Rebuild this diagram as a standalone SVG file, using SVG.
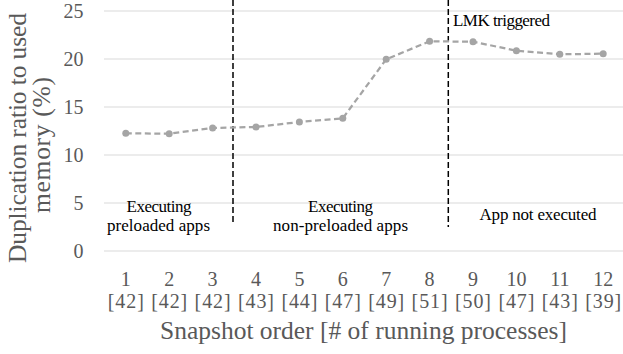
<svg xmlns="http://www.w3.org/2000/svg" width="623" height="354" viewBox="0 0 623 354">
<style>
.grid{stroke:#D9D9D9;stroke-width:1;fill:none}
.tick{font-family:"Liberation Serif",serif;font-size:20px;fill:#595959}
.title{font-family:"Liberation Serif",serif;font-size:25.5px;fill:#595959}
.ann{font-family:"Liberation Serif",serif;font-size:17px;fill:#000}
.series{stroke:#A5A5A5;stroke-width:2.25;stroke-dasharray:6 3.5;fill:none;stroke-linejoin:round}
.mk{fill:#A5A5A5}
.vline{stroke:#000;stroke-width:1.5;stroke-dasharray:6 3;fill:none}
</style>
<rect width="623" height="354" fill="#fff"/>
<g id="gridlines">
<line class="grid" x1="104" y1="11" x2="623" y2="11"/>
<line class="grid" x1="104" y1="59" x2="623" y2="59"/>
<line class="grid" x1="104" y1="107" x2="623" y2="107"/>
<line class="grid" x1="104" y1="155" x2="623" y2="155"/>
<line class="grid" x1="104" y1="203" x2="623" y2="203"/>
<line class="grid" x1="104" y1="251" x2="623" y2="251"/>
</g>
<g id="y-ticks" class="tick" text-anchor="end">
<text x="83.5" y="18">25</text>
<text x="83.5" y="66">20</text>
<text x="83.5" y="114">15</text>
<text x="83.5" y="162">10</text>
<text x="83.5" y="210">5</text>
<text x="83.5" y="258">0</text>
</g>
<g id="x-ticks" class="tick" text-anchor="middle">
<text x="125.8" y="286">1</text>
<text x="169.2" y="286">2</text>
<text x="212.6" y="286">3</text>
<text x="256" y="286">4</text>
<text x="299.4" y="286">5</text>
<text x="342.8" y="286">6</text>
<text x="386.2" y="286">7</text>
<text x="429.6" y="286">8</text>
<text x="473" y="286">9</text>
<text x="516.4" y="286">10</text>
<text x="559.8" y="286">11</text>
<text x="603.2" y="286">12</text>
<text x="125.8" y="308" textLength="36">[42]</text>
<text x="169.2" y="308" textLength="36">[42]</text>
<text x="212.6" y="308" textLength="36">[42]</text>
<text x="256" y="308" textLength="36">[43]</text>
<text x="299.4" y="308" textLength="36">[44]</text>
<text x="342.8" y="308" textLength="36">[47]</text>
<text x="386.2" y="308" textLength="36">[49]</text>
<text x="429.6" y="308" textLength="36">[51]</text>
<text x="473" y="308" textLength="36">[50]</text>
<text x="516.4" y="308" textLength="36">[47]</text>
<text x="559.8" y="308" textLength="36">[43]</text>
<text x="603.2" y="308" textLength="36">[39]</text>
</g>
<g id="axis-titles" class="title">
<text x="363.5" y="339" text-anchor="middle" textLength="407">Snapshot order [# of running processes]</text>
<text transform="translate(26,138) rotate(-90)" text-anchor="middle" textLength="250">Duplication ratio to used</text>
<text transform="translate(50,145) rotate(-90)" text-anchor="middle" textLength="136">memory (%)</text>
</g>
<g id="connectors">
<line class="vline" x1="233" y1="0" x2="233" y2="224"/>
<line class="vline" x1="448.3" y1="0" x2="448.3" y2="227"/>
</g>
<g id="series">
<polyline class="series" points="125.8,133.3 169.2,133.7 212.6,128 256,127 299.4,122 342.8,118.3 386.2,59.3 429.6,41.3 473,41.7 516.4,50.7 559.8,54.3 603.2,53.7"/>
<g class="mk">
<circle cx="125.8" cy="133.3" r="3.5"/>
<circle cx="169.2" cy="133.7" r="3.5"/>
<circle cx="212.6" cy="128" r="3.5"/>
<circle cx="256" cy="127" r="3.5"/>
<circle cx="299.4" cy="122" r="3.5"/>
<circle cx="342.8" cy="118.3" r="3.5"/>
<circle cx="386.2" cy="59.3" r="3.5"/>
<circle cx="429.6" cy="41.3" r="3.5"/>
<circle cx="473" cy="41.7" r="3.5"/>
<circle cx="516.4" cy="50.7" r="3.5"/>
<circle cx="559.8" cy="54.3" r="3.5"/>
<circle cx="603.2" cy="53.7" r="3.5"/>
</g>
</g>
<g id="label-lmk" class="ann"><text x="453" y="26" textLength="97">LMK triggered</text></g>
<g id="label-preloaded" class="ann" text-anchor="middle">
<text x="159" y="212" textLength="65">Executing</text>
<text x="158.5" y="230.5" textLength="103">preloaded apps</text>
</g>
<g id="label-nonpreloaded" class="ann" text-anchor="middle">
<text x="340.5" y="212" textLength="65">Executing</text>
<text x="340.5" y="230.5" textLength="135">non-preloaded apps</text>
</g>
<g id="label-notexecuted" class="ann" text-anchor="middle">
<text x="538" y="220" textLength="117">App not executed</text>
</g>
</svg>
